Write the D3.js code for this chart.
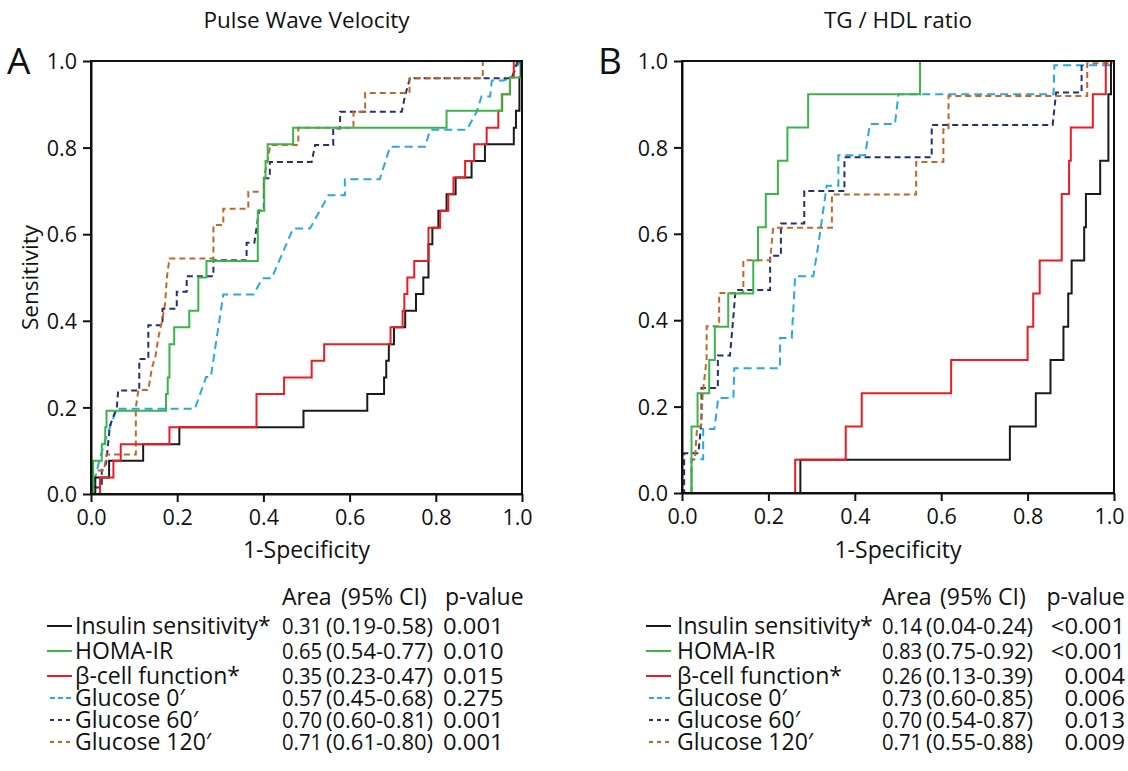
<!DOCTYPE html>
<html>
<head>
  <meta charset="UTF-8">
  <style>
    body { margin: 0; background: #fff; }
    svg text { font-family: "Open Sans", "Noto Sans", sans-serif; fill: #111; }
  </style>
</head>
<body>
  <svg id="chart" width="1128" height="771"></svg>
  <script src="https://cdn.jsdelivr.net/npm/d3@7/dist/d3.min.js"></script>
  <script>

    // ---- data ----
    let seriesNames = ["Insulin sensitivity*", "HOMA-IR", "β-cell function*", "Glucose 0′", "Glucose 60′", "Glucose 120′"];
    let tickValues = [0, 0.2, 0.4, 0.6, 0.8, 1.0];

    // Panel A: Pulse Wave Velocity, [1-specificity, sensitivity]
    let pwvInsulin = [[0,0],[0.01,0],[0.01,0.038],[0.042,0.038],[0.042,0.077],[0.121,0.077],[0.121,0.115],[0.205,0.115],[0.205,0.154],[0.493,0.154],[0.493,0.192],[0.641,0.192],[0.641,0.231],[0.68,0.231],[0.68,0.269],[0.685,0.269],[0.685,0.308],[0.691,0.308],[0.691,0.346],[0.703,0.346],[0.703,0.385],[0.729,0.385],[0.729,0.423],[0.754,0.423],[0.754,0.462],[0.771,0.462],[0.771,0.5],[0.783,0.5],[0.783,0.577],[0.792,0.577],[0.792,0.615],[0.806,0.615],[0.806,0.654],[0.825,0.654],[0.825,0.692],[0.846,0.692],[0.846,0.731],[0.883,0.731],[0.883,0.769],[0.914,0.769],[0.914,0.808],[0.981,0.808],[0.981,0.846],[0.986,0.846],[0.986,0.885],[0.994,0.885],[0.994,0.962],[0.997,0.962],[0.997,1],[1,1]];
    let pwvHoma = [[0,0],[0.005,0],[0.005,0.077],[0.025,0.077],[0.025,0.115],[0.033,0.115],[0.033,0.154],[0.036,0.154],[0.036,0.192],[0.174,0.192],[0.174,0.231],[0.178,0.231],[0.178,0.269],[0.182,0.269],[0.182,0.346],[0.193,0.346],[0.193,0.385],[0.228,0.385],[0.228,0.423],[0.249,0.423],[0.249,0.5],[0.268,0.5],[0.268,0.538],[0.387,0.538],[0.387,0.654],[0.402,0.654],[0.402,0.731],[0.405,0.731],[0.405,0.769],[0.41,0.769],[0.41,0.808],[0.469,0.808],[0.469,0.846],[0.825,0.846],[0.825,0.885],[0.953,0.885],[0.953,0.923],[0.972,0.923],[0.972,0.962],[0.999,0.962],[0.999,1],[1,1]];
    let pwvBeta = [[0,0],[0.021,0],[0.021,0.038],[0.052,0.038],[0.052,0.077],[0.069,0.077],[0.069,0.115],[0.182,0.115],[0.182,0.154],[0.384,0.154],[0.384,0.231],[0.448,0.231],[0.448,0.269],[0.512,0.269],[0.512,0.308],[0.541,0.308],[0.541,0.346],[0.695,0.346],[0.695,0.385],[0.723,0.385],[0.723,0.423],[0.727,0.423],[0.727,0.462],[0.734,0.462],[0.734,0.5],[0.75,0.5],[0.75,0.538],[0.783,0.538],[0.783,0.615],[0.81,0.615],[0.81,0.654],[0.829,0.654],[0.829,0.692],[0.841,0.692],[0.841,0.731],[0.868,0.731],[0.868,0.769],[0.889,0.769],[0.889,0.808],[0.918,0.808],[0.918,0.846],[0.945,0.846],[0.945,0.885],[0.954,0.885],[0.954,0.923],[0.972,0.923],[0.972,0.962],[0.981,0.962],[0.981,1],[1,1]];
    let pwvGlu0 = [[0,0],[0.01,0.04],[0.02,0.08],[0.035,0.13],[0.05,0.17],[0.06,0.197],[0.241,0.197],[0.267,0.27],[0.278,0.27],[0.307,0.461],[0.377,0.461],[0.398,0.498],[0.419,0.498],[0.469,0.613],[0.508,0.613],[0.551,0.69],[0.589,0.69],[0.589,0.727],[0.67,0.727],[0.694,0.802],[0.775,0.802],[0.787,0.841],[0.872,0.841],[0.895,0.883],[0.906,0.918],[0.926,0.918],[0.93,0.955],[0.957,0.955],[0.976,0.962],[0.995,1],[1,1]];
    let pwvGlu60 = [[0,0],[0.009,0],[0.009,0.015],[0.025,0.015],[0.025,0.054],[0.035,0.07],[0.044,0.158],[0.06,0.2],[0.063,0.239],[0.112,0.239],[0.112,0.312],[0.133,0.312],[0.133,0.39],[0.166,0.39],[0.166,0.428],[0.199,0.428],[0.199,0.467],[0.222,0.467],[0.222,0.503],[0.284,0.503],[0.284,0.54],[0.361,0.54],[0.361,0.58],[0.379,0.58],[0.39,0.655],[0.401,0.655],[0.401,0.729],[0.415,0.729],[0.415,0.767],[0.512,0.767],[0.52,0.806],[0.562,0.806],[0.562,0.844],[0.578,0.844],[0.578,0.883],[0.721,0.883],[0.729,0.921],[0.74,0.96],[0.976,0.96],[0.99,1],[1,1]];
    let pwvGlu120 = [[0,0],[0.005,0],[0.005,0.054],[0.03,0.054],[0.036,0.091],[0.104,0.091],[0.104,0.2],[0.11,0.24],[0.133,0.24],[0.141,0.29],[0.15,0.32],[0.156,0.36],[0.165,0.4],[0.172,0.44],[0.176,0.5],[0.182,0.544],[0.284,0.544],[0.284,0.621],[0.307,0.621],[0.307,0.659],[0.365,0.659],[0.365,0.698],[0.401,0.698],[0.401,0.732],[0.41,0.77],[0.416,0.806],[0.481,0.806],[0.481,0.846],[0.609,0.846],[0.609,0.883],[0.636,0.883],[0.636,0.926],[0.739,0.926],[0.739,0.96],[0.909,0.96],[0.909,1],[1,1]];

    // Panel B: TG / HDL ratio
    let tgInsulin = [[0,0],[0.274,0],[0.274,0.077],[0.759,0.077],[0.759,0.154],[0.819,0.154],[0.819,0.231],[0.853,0.231],[0.853,0.308],[0.883,0.308],[0.883,0.385],[0.894,0.385],[0.894,0.462],[0.902,0.462],[0.902,0.538],[0.931,0.538],[0.931,0.615],[0.935,0.615],[0.935,0.692],[0.968,0.692],[0.968,0.769],[0.987,0.769],[0.987,0.923],[0.993,0.923],[0.993,1],[1,1]];
    let tgHoma = [[0,0],[0.022,0],[0.022,0.154],[0.036,0.154],[0.036,0.231],[0.063,0.231],[0.063,0.308],[0.076,0.308],[0.076,0.385],[0.107,0.385],[0.107,0.462],[0.165,0.462],[0.165,0.538],[0.176,0.538],[0.176,0.615],[0.194,0.615],[0.194,0.692],[0.222,0.692],[0.222,0.769],[0.244,0.769],[0.244,0.846],[0.292,0.846],[0.292,0.923],[0.551,0.923],[0.551,1],[1,1]];
    let tgBeta = [[0,0],[0.262,0],[0.262,0.077],[0.379,0.077],[0.379,0.154],[0.416,0.154],[0.416,0.231],[0.623,0.231],[0.623,0.308],[0.8,0.308],[0.8,0.385],[0.813,0.385],[0.813,0.462],[0.828,0.462],[0.828,0.538],[0.879,0.538],[0.879,0.692],[0.896,0.692],[0.896,0.769],[0.9,0.769],[0.9,0.846],[0.951,0.846],[0.951,0.923],[0.981,0.923],[0.981,1],[1,1]];
    let tgGlu0 = [[0,0],[0.022,0],[0.022,0.078],[0.049,0.078],[0.049,0.148],[0.075,0.148],[0.084,0.22],[0.119,0.22],[0.121,0.289],[0.227,0.289],[0.227,0.359],[0.254,0.359],[0.262,0.502],[0.304,0.502],[0.315,0.571],[0.335,0.711],[0.362,0.711],[0.362,0.782],[0.424,0.782],[0.435,0.854],[0.493,0.854],[0.501,0.923],[0.86,0.923],[0.862,0.99],[1,0.99]];
    let tgGlu60 = [[0,0],[0.005,0],[0.005,0.092],[0.038,0.092],[0.045,0.165],[0.045,0.243],[0.083,0.243],[0.083,0.318],[0.111,0.318],[0.118,0.397],[0.124,0.47],[0.204,0.47],[0.204,0.549],[0.229,0.549],[0.229,0.624],[0.283,0.624],[0.283,0.699],[0.376,0.699],[0.376,0.777],[0.578,0.777],[0.578,0.852],[0.858,0.852],[0.866,0.927],[0.925,0.927],[0.925,1],[1,1]];
    let tgGlu120 = [[0,0],[0.022,0],[0.022,0.077],[0.03,0.077],[0.035,0.154],[0.044,0.154],[0.048,0.231],[0.057,0.31],[0.057,0.386],[0.086,0.386],[0.086,0.463],[0.142,0.463],[0.142,0.539],[0.204,0.539],[0.211,0.614],[0.347,0.614],[0.347,0.691],[0.542,0.691],[0.542,0.766],[0.605,0.766],[0.605,0.842],[0.617,0.842],[0.617,0.919],[0.938,0.919],[0.938,0.995],[1,0.995]];

    // legend table values
    let pwvArea = ["0.31", "0.65", "0.35", "0.57", "0.70", "0.71"];
    let pwvCI = ["(0.19-0.58)", "(0.54-0.77)", "(0.23-0.47)", "(0.45-0.68)", "(0.60-0.81)", "(0.61-0.80)"];
    let pwvP = ["0.001", "0.010", "0.015", "0.275", "0.001", "0.001"];
    let tgArea = ["0.14", "0.83", "0.26", "0.73", "0.70", "0.71"];
    let tgCI = ["(0.04-0.24)", "(0.75-0.92)", "(0.13-0.39)", "(0.60-0.85)", "(0.54-0.87)", "(0.55-0.88)"];
    let tgP = ["<0.001", "<0.001", "0.004", "0.006", "0.013", "0.009"];

    // ---- styles ----
    let colors = ["#1a1a1a", "#3bb54a", "#ed1c24", "#27aae1", "#262f70", "#c0672a"];
    let dashes = [null, null, null, "8,5", "6,4", "6,4"];
    let legendDashes = [null, null, null, "5,3", "4,4", "4,4"];

    let svg = d3.select("#chart");

    let panels = [
      { letter: "A", title: "Pulse Wave Velocity", x0: 91, x1: 522, y0: 494, y1: 61, ylabel: true,
        series: [pwvInsulin, pwvHoma, pwvBeta, pwvGlu0, pwvGlu60, pwvGlu120],
        area: pwvArea, ci: pwvCI, p: pwvP, pEnd: false,
        lineX: 47, labelX: 75, colA: 282, colCI: 326, headCI: 341, colP: 443 },
      { letter: "B", title: "TG / HDL ratio", x0: 682, x1: 1114, y0: 493, y1: 61, ylabel: false,
        series: [tgInsulin, tgHoma, tgBeta, tgGlu0, tgGlu60, tgGlu120],
        area: tgArea, ci: tgCI, p: tgP, pEnd: true,
        lineX: 646, labelX: 677, colA: 882, colCI: 926, headCI: 940, colP: 1125 }
    ];

    let rowY = [634, 659, 684, 706, 728, 750];
    let labelSize = "23px", numSize = "22px";

    // squeeze or widen a number a little so the columns sit like the original's figures
    function narrow(sel, k) {
      sel.each(function () {
        let w = this.getComputedTextLength();
        d3.select(this).attr("textLength", w * k).attr("lengthAdjust", "spacingAndGlyphs");
      });
    }

    panels.forEach((pn) => {
      let x = d3.scaleLinear().domain([0, 1]).range([pn.x0, pn.x1]);
      let y = d3.scaleLinear().domain([0, 1]).range([pn.y0, pn.y1]);
      let g = svg.append("g");

      let line = d3.line().x(d => x(d[0])).y(d => y(d[1]));

      // curves: dashed ones first, solid on top
      [3, 4, 5, 0, 2, 1].forEach(i => {
        g.append("path")
          .datum(pn.series[i])
          .attr("d", line)
          .attr("fill", "none")
          .attr("stroke", colors[i])
          .attr("stroke-width", 2)
          .attr("stroke-dasharray", dashes[i]);
      });

      // frame
      g.append("rect")
        .attr("x", pn.x0).attr("y", pn.y1)
        .attr("width", pn.x1 - pn.x0).attr("height", pn.y0 - pn.y1)
        .attr("fill", "none").attr("stroke", "#111").attr("stroke-width", 2);

      let xAxis = g.append("g")
        .attr("transform", "translate(0," + pn.y0 + ")")
        .call(d3.axisBottom(x).tickValues(tickValues).tickFormat(d3.format(".1f")).tickSize(8).tickSizeOuter(0).tickPadding(8));
      let yAxis = g.append("g")
        .attr("transform", "translate(" + pn.x0 + ",0)")
        .call(d3.axisLeft(y).tickValues(tickValues).tickFormat(d3.format(".1f")).tickSize(8).tickSizeOuter(0).tickPadding(6));
      [xAxis, yAxis].forEach(a => {
        a.select(".domain").attr("stroke", "#111").attr("stroke-width", 2);
        a.selectAll(".tick line").attr("stroke", "#111").attr("stroke-width", 2);
        a.selectAll(".tick text").style("font-size", "21.5px").attr("fill", "#111");
      });
      yAxis.selectAll(".tick text").attr("dy", "0.36em");
      xAxis.selectAll(".tick text").filter(d => d === 1).attr("dx", "-5");

      let cx = (pn.x0 + pn.x1) / 2;
      g.append("text").attr("x", cx).attr("y", 28).attr("text-anchor", "middle")
        .style("font-size", "22.5px").text(pn.title);
      g.append("text").attr("x", cx).attr("y", 558).attr("text-anchor", "middle")
        .style("font-size", "23px").text("1-Specificity");
      g.append("text").attr("x", pn.x0 - 84).attr("y", 74)
        .style("font-size", "37px").text(pn.letter);
      if (pn.ylabel) {
        g.append("text").attr("transform", "translate(38," + ((pn.y0 + pn.y1) / 2) + ") rotate(-90)")
          .attr("text-anchor", "middle").style("font-size", "22.5px").text("Sensitivity");
      }

      // legend table
      let header = g.append("g").style("font-size", labelSize);
      header.append("text").attr("x", pn.colA).attr("y", 605).text("Area");
      header.append("text").attr("x", pn.headCI).attr("y", 605).text("(95% CI)");
      if (pn.pEnd) header.append("text").attr("x", pn.colP).attr("y", 605).attr("text-anchor", "end").text("p-value");
      else header.append("text").attr("x", pn.colP + 2).attr("y", 605).text("p-value");

      seriesNames.forEach((name, i) => {
        let ry = rowY[i];
        g.append("line")
          .attr("x1", pn.lineX + (dashes[i] ? 3 : 0)).attr("x2", pn.lineX + 25)
          .attr("y1", ry - 8).attr("y2", ry - 8)
          .attr("stroke", colors[i]).attr("stroke-width", 2)
          .attr("stroke-dasharray", legendDashes[i]);
        g.append("text").attr("x", pn.labelX).attr("y", ry)
          .style("font-size", labelSize).text(name);
        let t = g.append("g").style("font-size", numSize);
        t.append("text").attr("x", pn.colA).attr("y", ry).text(pn.area[i]).call(narrow, 0.92);
        t.append("text").attr("x", pn.colCI).attr("y", ry).text(pn.ci[i]);
        let pt = t.append("text").attr("x", pn.colP).attr("y", ry).text(pn.p[i]);
        if (pn.pEnd) pt.attr("text-anchor", "end");
        pt.call(narrow, 1.08);
      });
    });

  </script>
</body>
</html>
